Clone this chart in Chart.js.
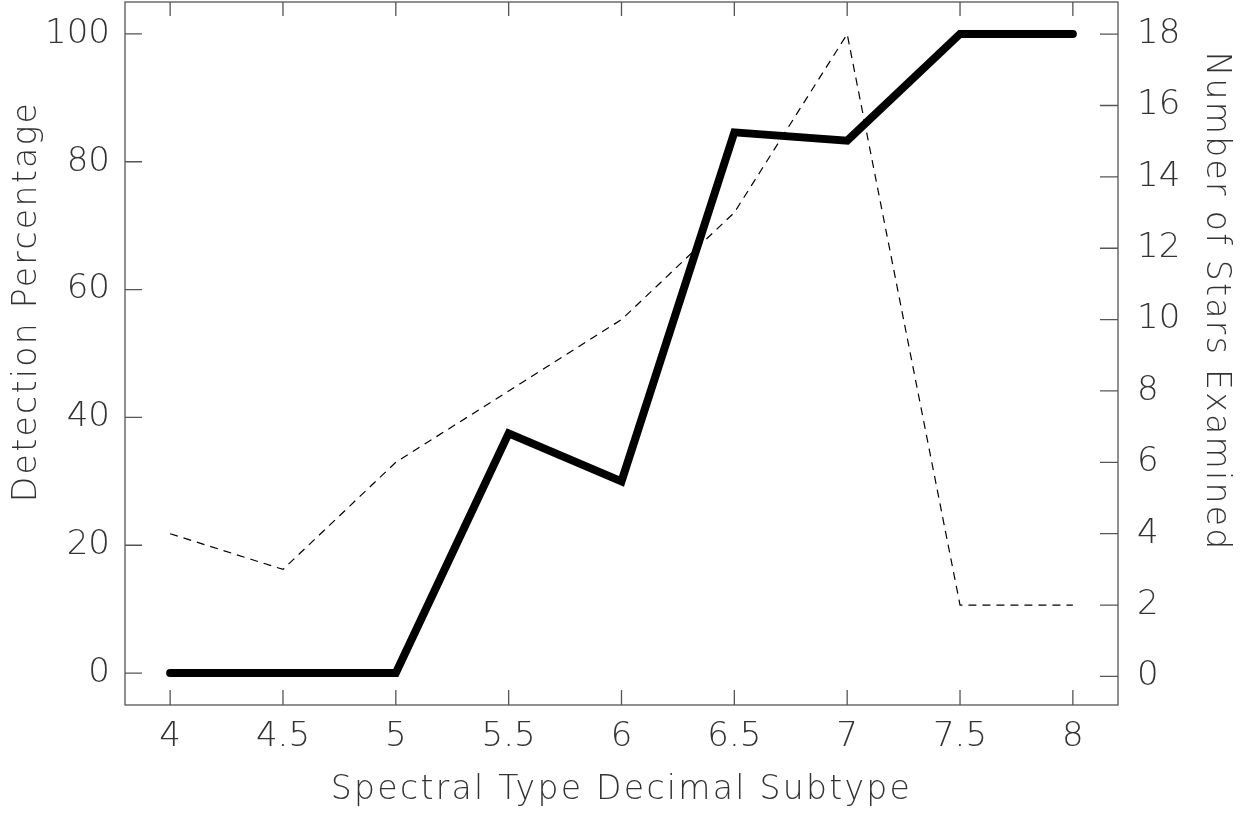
<!DOCTYPE html>
<html>
<head>
<meta charset="utf-8">
<script src="https://cdn.jsdelivr.net/npm/chart.js@4/dist/chart.umd.min.js"></script>
<style>
html,body{margin:0;padding:0;background:#fff;}
#wrap{width:1244px;height:813px;}
</style>
</head>
<body>
<div id="wrap"><canvas id="c" width="1244" height="813"></canvas></div>
<script>
const subtypes = [4, 4.5, 5, 5.5, 6, 6.5, 7, 7.5, 8];
const detectionPct = [0, 0, 0, 37.5, 30, 84.6, 83.3, 100, 100];
const starsExamined = [4, 3, 6, 8, 10, 13, 18, 2, 2];
const xTicks = [4, 4.5, 5, 5.5, 6, 6.5, 7, 7.5, 8];
const leftTicks = [0, 20, 40, 60, 80, 100];
const rightTicks = [0, 2, 4, 6, 8, 10, 12, 14, 16, 18];

const FONT = "'DejaVu Sans', sans-serif";
const TXT = '#333';
const AXC = '#555';

// wider letter spacing for axis titles; vertical titles sit a bit above centre
const origDrawTitle = Chart.Scale.prototype.drawTitle;
Chart.Scale.prototype.drawTitle = function () {
  const c = this.ctx;
  const old = c.letterSpacing;
  c.save();
  c.letterSpacing = '2.3px';
  if (!this.isHorizontal()) c.translate(0, -52);
  origDrawTitle.apply(this, arguments);
  c.restore();
  c.letterSpacing = old || '0px';
};

const boxPlugin = {
  id: 'box',
  afterDatasetsDraw(chart) {
    const {ctx, chartArea: a, scales} = chart;
    ctx.save();
    ctx.strokeStyle = AXC;
    ctx.lineWidth = 1.3;
    ctx.strokeRect(a.left, a.top, a.right - a.left, a.bottom - a.top);
    ctx.beginPath();
    scales.x.ticks.forEach(t => {
      const px = scales.x.getPixelForValue(t.value);
      ctx.moveTo(px, a.bottom); ctx.lineTo(px, a.bottom - 15);
      ctx.moveTo(px, a.top); ctx.lineTo(px, a.top + 14);
    });
    scales.y.ticks.forEach(t => {
      const py = scales.y.getPixelForValue(t.value);
      ctx.moveTo(a.left, py); ctx.lineTo(a.left + 17, py);
    });
    scales.y2.ticks.forEach(t => {
      const py = scales.y2.getPixelForValue(t.value);
      ctx.moveTo(a.right, py); ctx.lineTo(a.right - 18, py);
    });
    ctx.stroke();
    ctx.restore();
  }
};

function fixY(w) {
  return s => { s.width = w; s.paddingTop = 0; s.paddingBottom = 0; };
}

new Chart(document.getElementById('c'), {
  type: 'line',
  data: {
    datasets: [
      {
        label: 'Detection Percentage',
        data: subtypes.map((x, i) => ({x, y: detectionPct[i]})),
        yAxisID: 'y',
        borderColor: '#000',
        borderWidth: 8,
        borderCapStyle: 'round',
        borderJoinStyle: 'miter',
        pointRadius: 0,
        tension: 0,
        fill: false
      },
      {
        label: 'Number of Stars Examined',
        data: subtypes.map((x, i) => ({x, y: starsExamined[i]})),
        yAxisID: 'y2',
        borderColor: '#000',
        borderWidth: 1.2,
        borderDash: [8, 6],
        pointRadius: 0,
        tension: 0,
        fill: false
      }
    ]
  },
  options: {
    responsive: false,
    animation: false,
    layout: {padding: {top: 2, left: 0, right: 0, bottom: 0}},
    plugins: {legend: {display: false}, tooltip: {enabled: false}},
    scales: {
      x: {
        type: 'linear',
        min: 3.8, max: 8.2,
        afterBuildTicks: s => { s.ticks = xTicks.map(v => ({value: v})); },
        afterFit: s => { s.height = 108; s.paddingLeft = 0; s.paddingRight = 0; },
        grid: {display: false, drawTicks: false},
        border: {display: false},
        ticks: {color: TXT, font: {family: FONT, size: 34, weight: 200}, padding: 12, maxRotation: 0, autoSkip: false,
          callback: v => String(v)},
        title: {display: true, text: 'Spectral Type Decimal Subtype', color: TXT,
          font: {family: FONT, size: 33, weight: 200}, padding: {top: 0, bottom: 3}}
      },
      y: {
        type: 'linear', position: 'left',
        min: -5, max: 105,
        afterBuildTicks: s => { s.ticks = leftTicks.map(v => ({value: v})); },
        afterFit: fixY(125),
        grid: {display: false, drawTicks: false},
        border: {display: false},
        ticks: {color: TXT, font: {family: FONT, size: 34, weight: 200}, padding: 15, callback: v => String(v)},
        title: {display: true, text: 'Detection Percentage', color: TXT,
          font: {family: FONT, size: 33, weight: 200}, padding: {top: 8, bottom: 0}}
      },
      y2: {
        type: 'linear', position: 'right',
        min: -0.8, max: 18.9,
        afterBuildTicks: s => { s.ticks = rightTicks.map(v => ({value: v})); },
        afterFit: fixY(126),
        grid: {display: false, drawTicks: false},
        border: {display: false},
        ticks: {color: TXT, font: {family: FONT, size: 34, weight: 200}, padding: 19, callback: v => String(v)},
        title: {display: true, text: 'Number of Stars Examined', color: TXT,
          font: {family: FONT, size: 33, weight: 200}, padding: {top: 9, bottom: 0}}
      }
    }
  },
  plugins: [boxPlugin]
});
</script>
</body>
</html>
